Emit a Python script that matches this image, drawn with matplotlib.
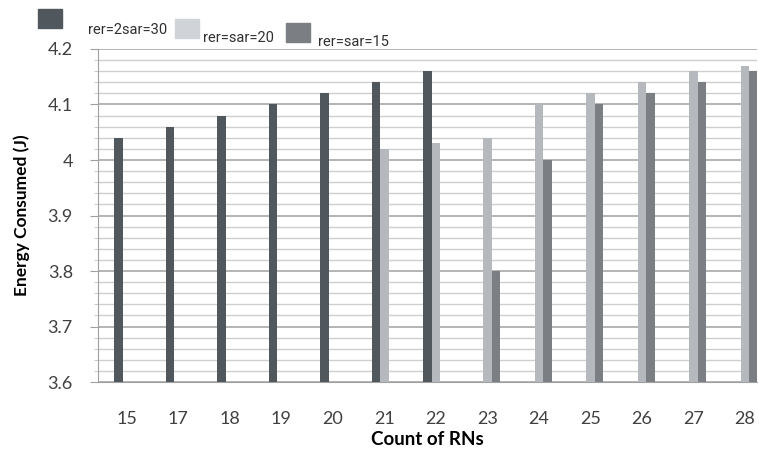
import numpy as np
import matplotlib.pyplot as plt
from matplotlib.patches import Rectangle

rns = ['15', '17', '18', '19', '20', '21', '22', '23', '24', '25', '26', '27', '28']
rer2sar30 = [4.04, 4.06, 4.08, 4.10, 4.12, 4.14, 4.16, None, None, None, None, None, None]
rersar20 = [None, None, None, None, None, 4.02, 4.03, 4.04, 4.10, 4.12, 4.14, 4.16, 4.17]
rersar15 = [None, None, None, None, None, None, None, 3.80, 4.00, 4.10, 4.12, 4.14, 4.16]

c_dark = '#50575d'
c_light = '#b5b9bd'
c_mid = '#7b7f83'

fig = plt.figure(figsize=(7.59, 4.62), dpi=100)
ax = fig.add_axes([0.129, 0.173, 0.868, 0.721])

x = np.arange(len(rns))
w = 0.165
for vals, off, col in [(rer2sar30, -w, c_dark), (rersar20, 0, c_light), (rersar15, w, c_mid)]:
    xs = [xi + off for xi, v in zip(x, vals) if v is not None]
    hs = [v - 3.6 for v in vals if v is not None]
    ax.bar(xs, hs, width=w, bottom=3.6, color=col, zorder=3)

ax.set_ylim(3.6, 4.2)
ax.set_xlim(-0.56, 12.23)
ax.set_yticks(np.arange(3.6, 4.201, 0.1))
ax.set_yticklabels(['3.6', '3.7', '3.8', '3.9', '4', '4.1', '4.2'])
ax.set_yticks(np.arange(3.6, 4.201, 0.02), minor=True)
ax.set_xticks(x)
ax.set_xticklabels(rns)

ax.grid(axis='y', which='major', color='#a8a8a8', lw=1.2, zorder=0)
ax.grid(axis='y', which='minor', color='#cfcfcf', lw=1.0, zorder=0)
for s in ['top', 'right']:
    ax.spines[s].set_visible(False)
ax.spines['left'].set_color('#a0a0a0')
ax.spines['bottom'].set_color('#a0a0a0')
ax.tick_params(axis='y', which='major', length=6, color='#a0a0a0', labelsize=13, labelcolor='#404040', pad=12)
ax.tick_params(axis='y', which='minor', length=3, color='#c0c0c0')
ax.tick_params(axis='x', length=0, labelsize=13, labelcolor='#404040', pad=21)
for lab in ax.get_xticklabels() + ax.get_yticklabels():
    lab.set_family('Lato')

ax.set_ylabel('Energy Consumed (J)', fontsize=12.5, fontweight='bold', family='Lato', labelpad=13)
ax.set_xlabel('Count of RNs', fontsize=13.5, fontweight='bold', family='Lato', labelpad=3)

# staggered legend at top
W, H = 759, 462
legend = [(38, 9, c_dark, 'rer=2sar=30', 88, 30),
          (175, 19, '#d0d3d7', 'rer=sar=20', 203, 38),
          (286, 23, c_mid, 'rer=sar=15', 318, 42)]
for px, py, col, txt, tx, ty in legend:
    fig.patches.append(Rectangle((px / W, 1 - (py + 19) / H), 24 / W, 19 / H,
                                 transform=fig.transFigure, color=col))
    fig.text(tx / W, 1 - ty / H, txt, fontsize=10.5, family='Roboto',
             color='#303030', va='center')

fig.savefig('out.png', dpi=100)
